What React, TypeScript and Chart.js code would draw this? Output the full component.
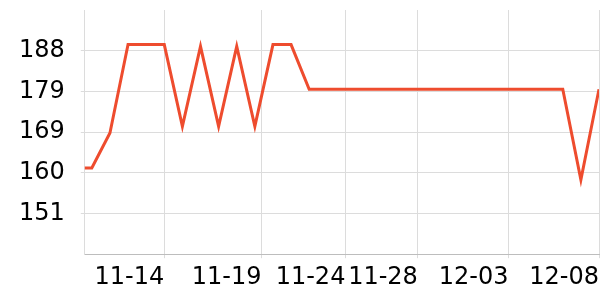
import React, { useEffect, useRef } from "react";
import { Chart, registerables } from "chart.js";

Chart.register(...registerables);

// day index (0 = 11-09) and values
const dayIndex = [
  0, 1, 2, 3, 4, 5, 6, 7, 8, 9, 10, 11, 12, 13, 14, 15, 16, 17, 18, 19, 20, 21,
  22, 23, 24, 25, 26, 27, 28, 29,
];
const values = [
  161.2, 161.2, 169.2, 189.4, 189.4, 189.4, 170.7, 189.0, 170.7, 189.0, 170.7,
  189.4, 189.4, 179.2, 179.2, 179.2, 179.2, 179.2, 179.2, 179.2, 179.2, 179.2,
  179.2, 179.2, 179.2, 179.2, 179.2, 179.2, 158.5, 179.2,
];
const xTickValues = [5, 10.37, 15, 19, 24, 29];
const xTickLabels = ["11-14", "11-19", "11-24", "11-28", "12-03", "12-08"];
const yTickValues = [150.8, 160.1, 169.4, 178.7, 188.0];
const yTickLabels = ["151", "160", "169", "179", "188"];

const X_MIN = 0.613;
const X_MAX = 29;
const Y_MIN = 141.5;
const Y_MAX = 197.3;

export default function App() {
  const ref = useRef<HTMLCanvasElement | null>(null);
  useEffect(() => {
    if (!ref.current) return;
    const noPad = (scale: any) => {
      scale.paddingTop = 0;
      scale.paddingBottom = 0;
      scale.paddingLeft = 0;
      scale.paddingRight = 0;
    };
    const chart = new Chart(ref.current, {
      type: "line",
      data: {
        datasets: [
          {
            data: dayIndex.map((d, i) => ({ x: d, y: values[i] })),
            borderColor: "rgb(238,76,46)",
            borderWidth: 3,
            pointRadius: 0,
            tension: 0,
            fill: false,
          },
        ],
      },
      options: {
        animation: false,
        responsive: true,
        maintainAspectRatio: false,
        layout: { padding: { left: 3, top: 10, right: 1, bottom: 3 } },
        plugins: { legend: { display: false }, tooltip: { enabled: false } },
        scales: {
          x: {
            type: "linear",
            min: X_MIN,
            max: X_MAX,
            afterBuildTicks: (axis: any) => {
              axis.ticks = xTickValues.map((v) => ({ value: v }));
            },
            afterFit: noPad,
            ticks: {
              autoSkip: false,
              maxRotation: 0,
              align: "end",
              color: "#000",
              padding: 5,
              font: { family: "DejaVu Sans", size: 24 },
              callback: (v: any) => {
                const idx = xTickValues.indexOf(Number(v));
                return idx >= 0 ? xTickLabels[idx] : "";
              },
            },
            grid: { color: "#dcdcdc", lineWidth: 1, tickLength: 4 },
            border: { color: "#bdbdbd" },
          },
          y: {
            type: "linear",
            min: Y_MIN,
            max: Y_MAX,
            afterBuildTicks: (axis: any) => {
              axis.ticks = yTickValues.map((v) => ({ value: v }));
            },
            afterFit: noPad,
            ticks: {
              autoSkip: false,
              color: "#000",
              padding: 16,
              font: { family: "DejaVu Sans", size: 24 },
              callback: (v: any) => {
                const idx = yTickValues.indexOf(Number(v));
                return idx >= 0 ? yTickLabels[idx] : "";
              },
            },
            grid: { color: "#dcdcdc", lineWidth: 1, tickLength: 4 },
            border: { color: "#dcdcdc" },
          },
        },
      },
    });
    return () => chart.destroy();
  }, []);
  return (
    <div style={{ position: "fixed", left: 0, top: 0, width: 600, height: 300 }}>
      <canvas ref={ref} />
    </div>
  );
}
